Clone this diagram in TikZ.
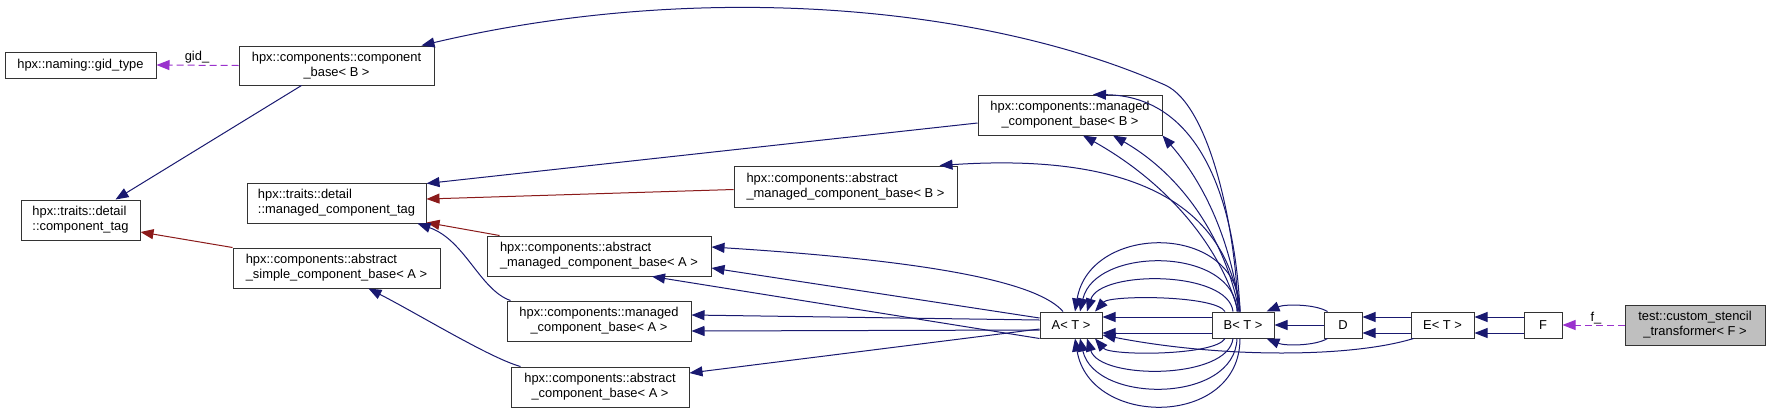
\documentclass[tikz,border=0pt]{standalone}
\usepackage{fontspec}
\setmainfont{Liberation Sans}
\usetikzlibrary{arrows.meta}
\definecolor{navy}{HTML}{191970}
\definecolor{firebrick}{HTML}{8B1A1A}
\definecolor{orchid}{HTML}{9A32CD}
\definecolor{boxgray}{HTML}{BFBFBF}
\newcommand{\nodefont}{\fontsize{12.9}{15}\selectfont}
\begin{document}
\begin{tikzpicture}[x=1pt,y=-1pt,
 box/.style={draw=black!80, line width=1pt, inner sep=0pt, font=\nodefont, fill=white},
 inhhead/.style={-{Triangle[length=13pt,width=10pt]}},
 pub/.style={draw=navy, line width=1pt, inhhead},
 priv/.style={draw=firebrick, line width=1pt, inhhead},
 usage/.style={draw=orchid, line width=1pt, dash pattern=on 7pt off 4pt, inhhead},
 lbl/.style={font=\nodefont, inner sep=0pt}]
\fill[white] (0,0) rectangle (1771,413);
\useasboundingbox (0,0) rectangle (1771,413);

% nodes
\node[box, minimum width=151, minimum height=26] (gid) at (80.5,65) {hpx::naming::gid\_type};
\node[box, minimum width=195, minimum height=39, align=center] (cb) at (336.5,65.5) {hpx::components::component\\\_base< B >};
\node[box, minimum width=119, minimum height=40, align=left] (ctag) at (80.5,220) {hpx::traits::detail\\::component\_tag};
\node[box, minimum width=179, minimum height=40, align=left] (mtag) at (336.5,203) {hpx::traits::detail\\::managed\_component\_tag};
\node[box, minimum width=207, minimum height=40, align=left] (asb) at (336.5,268) {hpx::components::abstract\\\_simple\_component\_base< A >};
\node[box, minimum width=223, minimum height=41, align=left] (amb) at (845.5,186.5) {hpx::components::abstract\\\_managed\_component\_base< B >};
\node[box, minimum width=184, minimum height=40, align=center] (mb) at (1070,115) {hpx::components::managed\\\_component\_base< B >};
\node[box, minimum width=224, minimum height=40, align=left] (ama) at (599,256) {hpx::components::abstract\\\_managed\_component\_base< A >};
\node[box, minimum width=184, minimum height=40, align=center] (ma) at (599,321) {hpx::components::managed\\\_component\_base< A >};
\node[box, minimum width=178, minimum height=40, align=center] (acb) at (600,387) {hpx::components::abstract\\\_component\_base< A >};
\node[box, minimum width=62, minimum height=26] (A) at (1071,325) {A< T >};
\node[box, minimum width=62, minimum height=26] (B) at (1243,325) {B< T >};
\node[box, minimum width=38, minimum height=26] (D) at (1343,325) {D};
\node[box, minimum width=63, minimum height=26] (E) at (1442.5,325) {E< T >};
\node[box, minimum width=38, minimum height=26] (F) at (1543,325) {F};
\node[box, fill=boxgray, minimum width=140, minimum height=40, align=center] (T) at (1695,325) {test::custom\_stencil\\\_transformer< F >};

% usage edges
\draw[usage] (cb.west) -- (gid.east);
\node[lbl] (gidlbl) at (197,57) {gid\_};
\draw[usage] (T.west) -- (F.east);
\node[lbl] (flbl) at (1596,318) {f\_};

% left part
\draw[pub] ([xshift=-35]cb.south) -- ([xshift=35]ctag.north);
\draw[priv] (asb.north west) -- ([yshift=-12]ctag.east);
\draw[priv] ([yshift=-3]amb.west) -- ([yshift=4]mtag.east);
\draw[priv] ([xshift=13]ama.north west) -- ([yshift=1]mtag.south east);
\draw[pub] ([yshift=-8]mb.west) -- ([yshift=-1]mtag.north east);
\draw[pub] ([xshift=4]ma.north west) .. controls (480,290) and (465,240) .. ([xshift=-9]mtag.south east);
\draw[pub] ([xshift=10]acb.north west) .. controls (490,358) and (420,315) .. ([xshift=32]asb.south);

% B<T> upward
\draw[pub] ([xshift=-5]B.north) .. controls (1236,230) and (1210,105) .. (1165,85)
  .. controls (985,5) and (700,-20) .. ([xshift=-13]cb.north east);
\draw[pub] ([xshift=-3]B.north) .. controls (1235,200) and (1200,96) .. ([xshift=23]mb.north);
\draw[pub] ([xshift=-5]B.north) .. controls (1225,260) and (1180,190) .. ([xshift=13]mb.south);
\draw[pub] ([xshift=-4]B.north) .. controls (1228,250) and (1190,180) .. ([xshift=43]mb.south);
\draw[pub] ([xshift=-3]B.north) .. controls (1232,250) and (1210,190) .. (mb.south east);
\draw[pub] ([xshift=-3]B.north) .. controls (1230,230) and (1170,150) .. ([xshift=-18]amb.north east);

% B<T> -> A<T>
\draw[pub] ([yshift=8]B.west) -- ([yshift=8]A.east);
\draw[pub] ([yshift=-8]B.west) -- ([yshift=-8]A.east);
\draw[pub] ([xshift=-3]B.north) .. controls (1240,222) and (1090,222) .. ([xshift=4]A.north);
\draw[pub] ([xshift=-6]B.north) .. controls (1235,246) and (1095,246) .. ([xshift=9]A.north);
\draw[pub] ([xshift=-10]B.north) .. controls (1228,270) and (1100,270) .. ([xshift=16]A.north);
\draw[pub] ([xshift=-18]B.north) .. controls (1215,295) and (1110,295) .. ([xshift=24]A.north);
\draw[pub] ([xshift=-18]B.south) .. controls (1215,356) and (1110,356) .. ([xshift=24]A.south);
\draw[pub] ([xshift=-10]B.south) .. controls (1228,380) and (1100,380) .. ([xshift=16]A.south);
\draw[pub] ([xshift=-6]B.south) .. controls (1235,404) and (1095,404) .. ([xshift=9]A.south);
\draw[pub] ([xshift=-3]B.south) .. controls (1240,428) and (1090,428) .. ([xshift=4]A.south);

% A<T> -> left classes
\draw[pub] ([xshift=-8]A.north) .. controls (1040,285) and (950,262) .. ([yshift=9]ama.east);
\draw[pub] ([yshift=7]A.west) -- ([yshift=-12]ama.east);
\draw[pub] (A.south west) -- ([xshift=53]ama.south);
\draw[pub] ([yshift=5]A.west) -- ([yshift=6]ma.east);
\draw[pub] ([yshift=-5]A.west) -- ([yshift=-10]ma.east);
\draw[pub] ([yshift=-4]A.west) -- ([yshift=14]acb.east);

% right chain
\draw[pub] (D.west) -- (B.east);
\draw[pub] ([xshift=4]D.north west) .. controls (1315,304) and (1285,304) .. ([xshift=-8]B.north east);
\draw[pub] ([xshift=4]D.south west) .. controls (1315,346) and (1285,346) .. ([xshift=-8]B.south east);
\draw[pub] ([yshift=8]E.west) -- ([yshift=8]D.east);
\draw[pub] ([yshift=-8]E.west) -- ([yshift=-8]D.east);
\draw[pub] ([xshift=3]E.south west) .. controls (1350,358) and (1220,358) .. ([yshift=-10]A.east);
\draw[pub] ([yshift=8]F.west) -- ([yshift=8]E.east);
\draw[pub] ([yshift=-8]F.west) -- ([yshift=-8]E.east);
\end{tikzpicture}
\end{document}
